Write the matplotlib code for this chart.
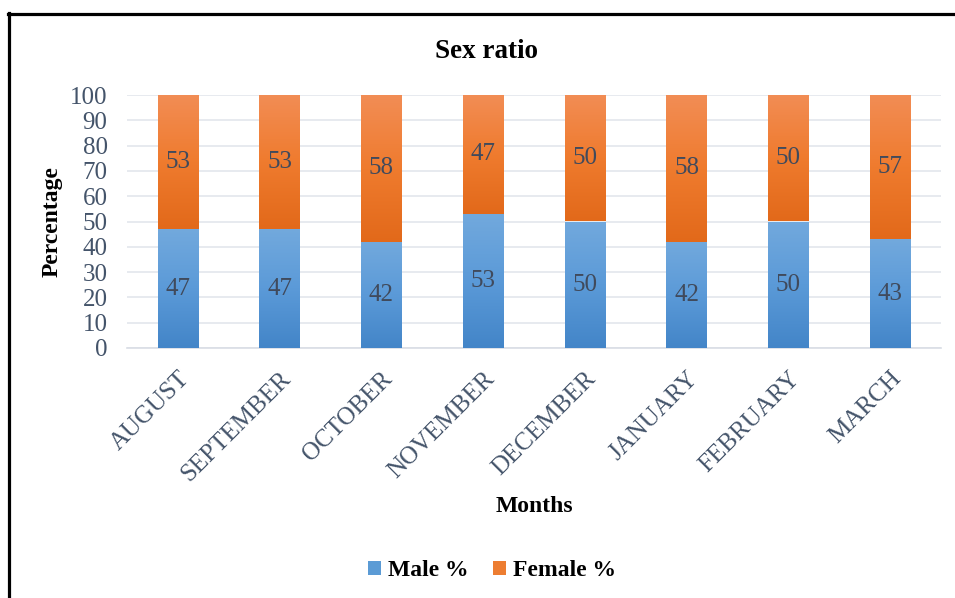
import numpy as np
import matplotlib
matplotlib.use("Agg")
import matplotlib.pyplot as plt
from matplotlib.colors import LinearSegmentedColormap
from matplotlib.lines import Line2D
from matplotlib.patches import Patch

months = ["AUGUST", "SEPTEMBER", "OCTOBER", "NOVEMBER", "DECEMBER",
          "JANUARY", "FEBRUARY", "MARCH"]
male_pct = [47, 47, 42, 53, 50, 42, 50, 43]
female_pct = [53, 53, 58, 47, 50, 58, 50, 57]
yticks = [0, 10, 20, 30, 40, 50, 60, 70, 80, 90, 100]

plt.rcParams["font.family"] = ["Liberation Serif", "DejaVu Serif"]

W, H = 955, 598
fig = plt.figure(figsize=(W / 100, H / 100), dpi=100)
fig.patch.set_facecolor("white")
ax = fig.add_axes([127 / W, 1 - 348 / H, (941 - 127) / W, (348 - 95) / H])

x = np.arange(len(months))
bw = 0.40
male_bars = ax.bar(x, male_pct, bw, color="none", edgecolor="none", zorder=3)
female_bars = ax.bar(x, female_pct, bw, bottom=male_pct, color="none",
                     edgecolor="none", zorder=3)

blue_grad = LinearSegmentedColormap.from_list("blue_grad", ["#4385c8", "#5b9ad8", "#72a9dd"])
orange_grad = LinearSegmentedColormap.from_list("orange_grad", ["#e2691a", "#ef7b2e", "#f28d55"])
grad = np.linspace(0, 1, 256).reshape(-1, 1)


def fill_gradient(bars, cmap):
    for b in bars:
        x0, y0 = b.get_x(), b.get_y()
        w, h = b.get_width(), b.get_height()
        im = ax.imshow(grad, cmap=cmap, origin="lower", aspect="auto",
                       extent=(x0, x0 + w, y0, y0 + h), zorder=3,
                       interpolation="bilinear")
        im.set_clip_path(b)


fill_gradient(male_bars, blue_grad)
fill_gradient(female_bars, orange_grad)

label_color = "#404a5c"
for xi, m, f in zip(x, male_pct, female_pct):
    ax.text(xi, m / 2, f"{m}", ha="center", va="center", fontsize=18,
            color=label_color, zorder=5)
    ax.text(xi, m + f / 2, f"{f}", ha="center", va="center", fontsize=18,
            color=label_color, zorder=5)

ax.set_xlim(-0.5, len(months) - 0.5)
ax.set_ylim(0, 100)
ax.set_yticks(yticks)
ax.set_yticklabels([str(t) for t in yticks])
ax.set_xticks(x)
ax.set_xticklabels(months, rotation=45, ha="right", va="top",
                   rotation_mode="anchor")
ax.tick_params(axis="both", length=0, labelsize=18, labelcolor="#44546a")
ax.tick_params(axis="y", pad=14)
ax.tick_params(axis="x", pad=14)

ax.grid(axis="y", color="#e3e6ec", linewidth=1.2, zorder=0)
ax.set_axisbelow(True)
for s in ["top", "right", "left"]:
    ax.spines[s].set_visible(False)
ax.spines["bottom"].set_color("#d9dde5")
ax.spines["bottom"].set_linewidth(1.2)

ax.set_ylabel("Percentage", fontsize=17, fontweight="bold", va="center")
ax.yaxis.set_label_coords((52 - 127) / (941 - 127), 0.5)
fig.text(534 / W, 1 - 507 / H, "Months", ha="center", va="center",
         fontsize=17, fontweight="bold")
fig.text(486 / W, 1 - 51 / H, "Sex ratio", ha="center", va="center",
         fontsize=19.5, fontweight="bold")

handles = [Patch(facecolor="#5b9bd5", edgecolor="none", label="Male %"),
           Patch(facecolor="#ed7d31", edgecolor="none", label="Female %")]
leg = fig.legend(handles=handles, loc="center", bbox_to_anchor=(492 / W, 1 - 571 / H),
                 ncol=2, frameon=False, prop={"weight": "bold", "size": 17},
                 handlelength=0.55, handleheight=0.55, handletextpad=0.3,
                 columnspacing=1.0)

# frame lines along the left and top edges
fig.add_artist(Line2D([8.5 / W, 8.5 / W], [0, 1 - 13 / H], transform=fig.transFigure,
                      color="black", linewidth=2.3))
fig.add_artist(Line2D([8 / W, 1], [1 - 13.5 / H, 1 - 13.5 / H], transform=fig.transFigure,
                      color="black", linewidth=2.3))

fig.savefig("out.png", dpi=100, facecolor="white")
